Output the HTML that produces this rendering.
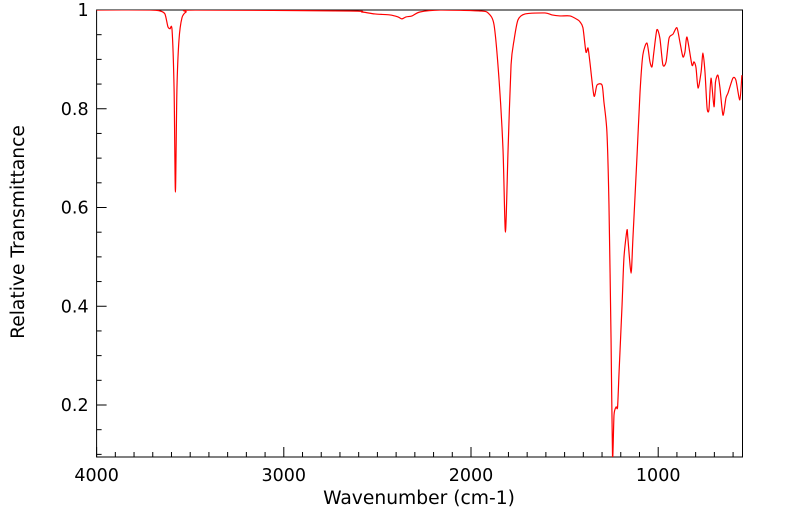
<!DOCTYPE html>
<html><head><meta charset="utf-8"><style>
html,body{margin:0;padding:0;background:#fff;}
svg{display:block;font-family:"DejaVu Sans","Liberation Sans",sans-serif;}
</style></head><body>
<svg id="chart" width="799" height="516">
<defs><clipPath id="clip"><rect x="96.6" y="10" width="645.9" height="447"/></clipPath></defs>
<rect x="96.6" y="10" width="645.9" height="447" fill="#fff" stroke="#000" stroke-width="1"/>
<g id="ticks"></g>
<g id="labels"></g>
<g clip-path="url(#clip)"><path id="line" fill="none" stroke="#ff0000" stroke-width="1.2" stroke-linejoin="round"/></g>
<text x="419" y="504" font-size="18.7" text-anchor="middle">Wavenumber (cm-1)</text>
<text transform="translate(24,232) rotate(-90)" font-size="18.7" text-anchor="middle">Relative Transmittance</text>
</svg>
<script>
const wavenumbers=[4000,3715,3661,3635,3619,3608,3597,3586,3579,3571,3560,3544,3522,3474,2646,2582,2513,2433,2390,2369,2347,2315,2273,2166,1952,1909,1877,1850,1829,1816,1802,1786,1770,1749,1711,1605,1567,1525,1471,1429,1418,1402,1386,1375,1365,1343,1327,1300,1290,1274,1263,1252,1244,1236,1225,1217,1209,1193,1183,1167,1162,1145,1135,1113,1097,1082,1060,1044,1033,1023,1007,991,975,958,942,921,900,884,868,857,846,820,809,798,787,771,761,750,739,729,718,702,694,681,670,654,638,627,601,585,564,553];
const transmittance=[1.0,1.0,0.998,0.992,0.966,0.962,0.960,0.838,0.631,0.838,0.939,0.984,0.996,1.0,0.998,0.996,0.992,0.990,0.986,0.982,0.986,0.988,0.996,1.0,0.998,0.994,0.970,0.858,0.717,0.550,0.717,0.889,0.939,0.980,0.992,0.994,0.990,0.988,0.988,0.980,0.976,0.964,0.915,0.923,0.895,0.826,0.848,0.848,0.814,0.753,0.605,0.336,0.095,0.180,0.196,0.196,0.267,0.403,0.498,0.554,0.538,0.467,0.538,0.706,0.834,0.909,0.933,0.895,0.885,0.915,0.960,0.943,0.889,0.895,0.943,0.951,0.964,0.935,0.905,0.915,0.945,0.889,0.895,0.883,0.842,0.874,0.913,0.874,0.802,0.798,0.862,0.804,0.854,0.868,0.842,0.787,0.822,0.832,0.862,0.858,0.818,0.868];
const xTickLabels=["4000","3000","2000","1000"];
const yTickLabels=["0.2","0.4","0.6","0.8","1"];
const X0=96.6,X1=742.5,Y0=10,Y1=457;
const xMax=4000,xMin=4000-(X1-X0)/0.1872;
const yMax=1,yMin=1-(Y1-Y0)/493.75;
const sx=v=>X0+(xMax-v)/(xMax-xMin)*(X1-X0);
const sy=v=>Y0+(yMax-v)/(yMax-yMin)*(Y1-Y0);
const NS="http://www.w3.org/2000/svg";
const pts=wavenumbers.map((w,i)=>[sx(w),sy(transmittance[i])]);
let d="M"+pts[0][0].toFixed(2)+","+pts[0][1].toFixed(2);
for(let i=0;i<pts.length-1;i++){
  const p0=pts[Math.max(0,i-1)],p1=pts[i],p2=pts[i+1],p3=pts[Math.min(pts.length-1,i+2)];
  const k=1/8;
  const c1=[p1[0]+(p2[0]-p0[0])*k,p1[1]+(p2[1]-p0[1])*k];
  const c2=[p2[0]-(p3[0]-p1[0])*k,p2[1]-(p3[1]-p1[1])*k];
  d+="C"+c1[0].toFixed(2)+","+c1[1].toFixed(2)+" "+c2[0].toFixed(2)+","+c2[1].toFixed(2)+" "+p2[0].toFixed(2)+","+p2[1].toFixed(2);
}
document.getElementById("line").setAttribute("d",d);
const tg=document.getElementById("ticks"),lg=document.getElementById("labels");
function ln(x1,y1,x2,y2){const l=document.createElementNS(NS,"line");l.setAttribute("x1",x1);l.setAttribute("y1",y1);l.setAttribute("x2",x2);l.setAttribute("y2",y2);l.setAttribute("stroke","#000");


tg.appendChild(l);}
for(let w=4000;w>=xMin;w-=100){const x=sx(w);ln(x,Y1,x,Y1-(w%1000===0?10:5));}
for(let v=0.1;v<=1.0001;v+=0.05){const y=sy(v);const maj=Math.abs(Math.round(v*10)-v*10)<1e-6&&Math.round(v*10)%2===0;ln(X0,y,X0+(maj?10:5),y);}
xTickLabels.forEach(s=>{const t=document.createElementNS(NS,"text");t.setAttribute("x",sx(+s));t.setAttribute("y",Y1+24);t.setAttribute("font-size","17.5");t.setAttribute("text-anchor","middle");t.textContent=s;


lg.appendChild(t);});
yTickLabels.forEach(s=>{const t=document.createElementNS(NS,"text");t.setAttribute("x",X0-8);t.setAttribute("y",sy(+s)+6);t.setAttribute("font-size","17.5");t.setAttribute("text-anchor","end");t.textContent=s;


lg.appendChild(t);});
</script>
</body></html>
